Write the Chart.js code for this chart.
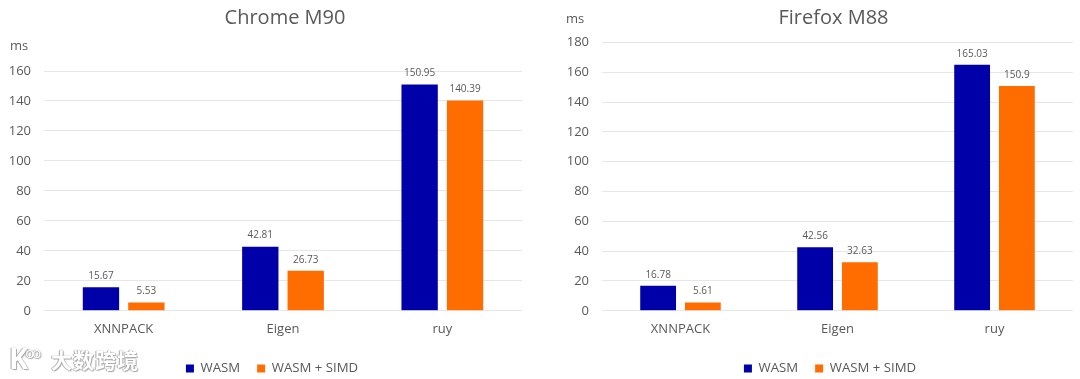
<!DOCTYPE html>
<html>
<head>
<meta charset="utf-8">
<title>WASM benchmark</title>
<script src="https://cdn.jsdelivr.net/npm/chart.js@4"></script>
<style>
    html, body { margin: 0; padding: 0; background: #fff; }
    #page { position: relative; width: 1080px; height: 379px; overflow: hidden; }
    .box { position: absolute; top: 0; width: 540px; height: 379px; }
    #mark { position: absolute; left: 51px; top: 345px; font: 700 21px "Noto Sans CJK SC"; letter-spacing: 1px; color: #fff; line-height: 28px;
        text-shadow: 0 0 1px #999, 1px 1px 1px #aaa, -1px 0 1px #aaa; }
    #logo { position: absolute; left: 9px; top: 340px; font: 700 29px "Open Sans"; color: #fff; line-height: 36px;
        text-shadow: 0 0 1px #999, 1px 1px 1px #aaa, -1px 0 1px #aaa; }
    #logo span { font-size: 15px; position: relative; top: -11px; left: -3px; font-weight: 400; letter-spacing: -2px; }
</style>
</head>
<body>
<div id="page">
    <div class="box" style="left:0"><canvas id="chromeChart"></canvas></div>
    <div class="box" style="left:540px"><canvas id="firefoxChart"></canvas></div>
    <div id="logo">K<span>oo</span></div>
    <div id="mark">大数跨境</div>
</div>
<script>
const categories = ["XNNPACK", "Eigen", "ruy"];
const seriesNames = ["WASM", "WASM + SIMD"];
const chromeWasm = [15.67, 42.81, 150.95];
const chromeSimd = [5.53, 26.73, 140.39];
const firefoxWasm = [16.78, 42.56, 165.03];
const firefoxSimd = [5.61, 32.63, 150.9];

const textColor = "#595959";
const fontName = "'Open Sans'";

// value labels above the bars and the "ms" unit in the corner
const extras = {
    id: "extras",
    afterLayout(chart, args, opts) {
        // title and legend are not centred on the same x in the original
        chart.titleBlock.left += opts.titleShift;
        chart.titleBlock.right += opts.titleShift;
        chart.legend.left += opts.legendShift;
        chart.legend.right += opts.legendShift;
        chart.legend.top += 6;
        chart.legend.bottom += 6;
    },
    afterDatasetsDraw(chart, args, opts) {
        const ctx = chart.ctx;
        ctx.save();
        ctx.fillStyle = textColor;
        ctx.textAlign = "center";
        ctx.textBaseline = "bottom";
        ctx.font = "10px " + fontName;
        chart.data.datasets.forEach(function (ds, d) {
            chart.getDatasetMeta(d).data.forEach(function (bar, i) {
                ctx.fillText(ds.data[i], bar.x, bar.y - 6);
            });
        });
        ctx.textAlign = "left";
        ctx.textBaseline = "middle";
        ctx.font = "13px " + fontName;
        ctx.fillText("ms", opts.unitX, opts.unitY);
        ctx.restore();
    }
};

function makeChart(id, title, wasm, simd, cfg) {
    return new Chart(id, {
        type: "bar",
        plugins: [extras],
        data: {
            labels: categories,
            datasets: [{
                label: seriesNames[0],
                data: wasm,
                backgroundColor: "#0000A8",
                categoryPercentage: 0.57,
                barPercentage: 0.8
            }, {
                label: seriesNames[1],
                data: simd,
                backgroundColor: "#FF6D00",
                categoryPercentage: 0.57,
                barPercentage: 0.8
            }]
        },
        options: {
            responsive: false,
            animation: false,
            layout: { padding: { right: cfg.right } },
            scales: {
                x: {
                    // labels are clipped to the scale box, keep it tall enough
                    afterFit: function (scale) { scale.height = 28; },
                    grid: { display: false, drawTicks: false },
                    border: { display: false },
                    ticks: { color: textColor, padding: 11, maxRotation: 0, font: { family: fontName, size: 13 } }
                },
                y: {
                    min: 0,
                    max: cfg.max,
                    afterFit: function (scale) { scale.width = cfg.axisWidth; },
                    grid: { color: "#E6E6E6", drawTicks: false },
                    border: { display: false },
                    ticks: { stepSize: 20, color: textColor, padding: 13, font: { family: fontName, size: 13 } }
                }
            },
            plugins: {
                title: {
                    display: true,
                    text: title,
                    color: textColor,
                    font: { family: fontName, size: 20, weight: "normal" },
                    padding: { top: 6, bottom: cfg.titleGap }
                },
                legend: {
                    position: "bottom",
                    labels: {
                        boxWidth: 8,
                        boxHeight: 8,
                        padding: 17,
                        color: textColor,
                        font: { family: fontName, size: 13.2 }
                    }
                },
                tooltip: { enabled: false },
                extras: cfg.extras
            }
        }
    });
}

function sizeCanvas(id) {
    const c = document.getElementById(id);
    c.width = 540;
    c.height = 379;
}
sizeCanvas("chromeChart");
sizeCanvas("firefoxChart");

makeChart("chromeChart", "Chrome M90", chromeWasm, chromeSimd, {
    max: 160, right: 18, axisWidth: 44, titleGap: 41,
    extras: { titleShift: 24, legendShift: 11, unitX: 10, unitY: 46 }
});
makeChart("firefoxChart", "Firefox M88", firefoxWasm, firefoxSimd, {
    max: 180, right: 7, axisWidth: 62, titleGap: 12.5,
    extras: { titleShift: 27, legendShift: 23.5, unitX: 26, unitY: 19 }
});
</script>
</body>
</html>
